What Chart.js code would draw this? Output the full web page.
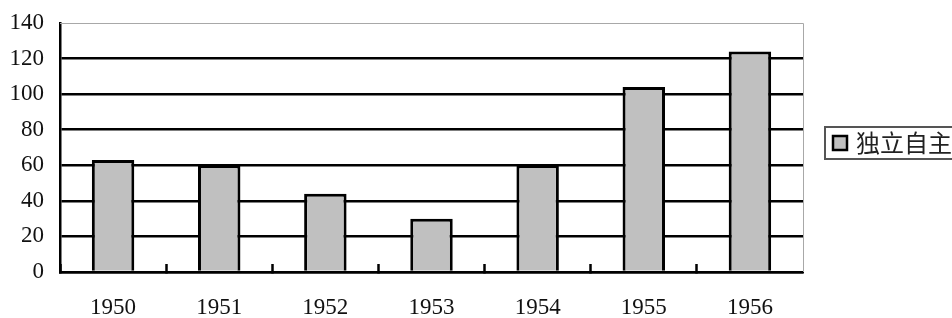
<!DOCTYPE html>
<html><head><meta charset="utf-8">
<script src="https://cdn.jsdelivr.net/npm/chart.js@4/dist/chart.umd.min.js"></script>
<style>html,body{margin:0;padding:0;background:#fff}#wrap{width:952px;height:318px}</style>
</head><body><div id="wrap"><canvas id="c" width="952" height="318"></canvas></div>
<script>
const categories = ['1950','1951','1952','1953','1954','1955','1956'];
const seriesName = '独立自主';
const seriesValues = [63, 60, 44, 30, 60, 104, 124];
const yTicks = [0, 20, 40, 60, 80, 100, 120, 140];

const frame = {
  id: 'frame',
  beforeDatasetsDraw(chart) {
    const a = chart.chartArea, ctx = chart.ctx;
    ctx.save();
    ctx.strokeStyle = '#a8a8a8'; ctx.lineWidth = 1;
    ctx.beginPath();
    ctx.moveTo(a.left, a.top + 0.5); ctx.lineTo(a.right + 0.5, a.top + 0.5); ctx.lineTo(a.right + 0.5, a.bottom);
    ctx.stroke();
    ctx.restore();
  },
  afterDraw(chart) {
    const a = chart.chartArea, ctx = chart.ctx;
    const ds = chart.data.datasets[0];
    const x0 = a.right + 22, y0 = a.top + 104;
    ctx.save();
    ctx.strokeStyle = '#555'; ctx.lineWidth = 2;
    ctx.strokeRect(x0, y0, 200, 32);
    ctx.fillStyle = ds.backgroundColor; ctx.fillRect(x0 + 8, y0 + 9, 14, 14);
    ctx.strokeStyle = '#000'; ctx.lineWidth = 2.5; ctx.strokeRect(x0 + 8, y0 + 9, 14, 14);
    ctx.fillStyle = '#222'; ctx.font = '24px "Noto Sans CJK SC"'; ctx.textBaseline = 'middle';
    ctx.fillText(ds.label, x0 + 31, y0 + 16);
    ctx.restore();
  }
};

new Chart(document.getElementById('c'), {
  type: 'bar',
  data: {
    labels: categories,
    datasets: [{
      label: seriesName,
      data: seriesValues,
      backgroundColor: '#c0c0c0',
      borderColor: '#000',
      borderWidth: 3,
      categoryPercentage: 1,
      barPercentage: 0.4
    }]
  },
  options: {
    responsive: false,
    animation: false,
    layout: { padding: { left: 0, right: 149, top: 23, bottom: 0 } },
    plugins: { legend: { display: false }, tooltip: { enabled: false } },
    scales: {
      x: {
        grid: {
          offset: true, drawOnChartArea: false, drawTicks: true, tickLength: -8,
          tickColor: (c) => (c.type === 'tick' ? '#000' : 'transparent'), tickWidth: 2.5
        },
        border: { color: '#000', width: 2.5 },
        ticks: { color: '#111', font: { family: 'Liberation Serif', size: 23 }, padding: 30, maxRotation: 0 },
        afterFit(s) { s.height = 46; s.paddingLeft = 0; s.paddingRight = 0; }
      },
      y: {
        min: 0, max: 140,
        afterBuildTicks(s) { s.ticks = yTicks.map(v => ({ value: v })); },
        grid: {
          drawTicks: false,
          color: (c) => (c.tick && c.tick.value === 140 ? '#a8a8a8' : '#000'),
          lineWidth: (c) => (c.tick && c.tick.value === 140 ? 1 : 2.5)
        },
        border: { color: '#000', width: 2.5 },
        ticks: { color: '#111', font: { family: 'Liberation Serif', size: 23 }, padding: 16 },
        afterFit(s) { s.width = 60; s.paddingTop = 0; s.paddingBottom = 0; }
      }
    }
  },
  plugins: [frame]
});
</script></body></html>
